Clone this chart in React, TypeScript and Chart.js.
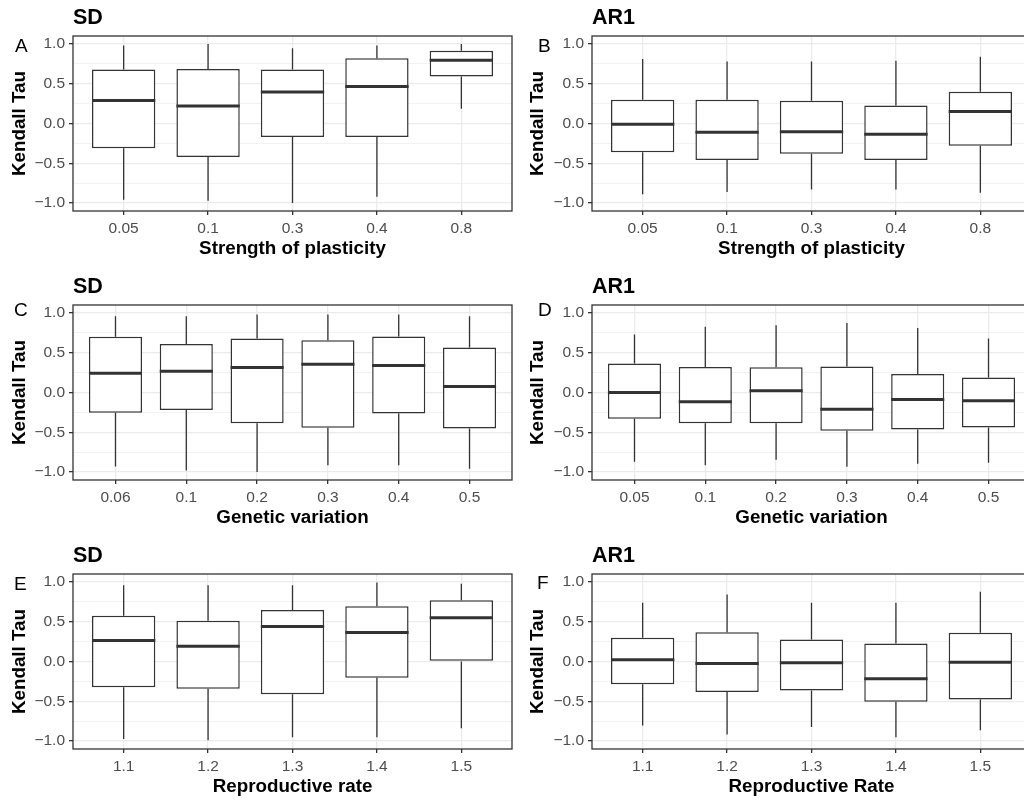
import React, { useEffect, useRef } from 'react';
import { Chart, registerables } from 'chart.js';

Chart.register(...registerables);

const FONT = '"Liberation Sans", Arial, Helvetica, sans-serif';

// ---- categories ----
const plasticityLevels = ['0.05', '0.1', '0.3', '0.4', '0.8'];
const geneticLevelsSD = ['0.06', '0.1', '0.2', '0.3', '0.4', '0.5'];
const geneticLevelsAR1 = ['0.05', '0.1', '0.2', '0.3', '0.4', '0.5'];
const reproLevels = ['1.1', '1.2', '1.3', '1.4', '1.5'];

// ---- y ticks ----
const yMajorTicks = [-1, -0.5, 0, 0.5, 1];
const yMajorLabels = ['\u22121.0', '\u22120.5', '0.0', '0.5', '1.0'];
const yMinorTicks = [-0.75, -0.25, 0.25, 0.75];

// ---- Panel A: SD vs strength of plasticity ----
const aMin = [-0.96, -0.97, -1.0, -0.92, 0.185];
const aQ1 = [-0.31, -0.42, -0.17, -0.17, 0.59];
const aMed = [0.29, 0.22, 0.395, 0.465, 0.795];
const aQ3 = [0.68, 0.685, 0.68, 0.82, 0.915];
const aMax = [0.98, 1.0, 0.945, 0.98, 1.0];

// ---- Panel B: AR1 vs strength of plasticity ----
const bMin = [-0.89, -0.86, -0.83, -0.83, -0.87];
const bQ1 = [-0.36, -0.46, -0.38, -0.46, -0.28];
const bMed = [-0.01, -0.11, -0.105, -0.135, 0.15];
const bQ3 = [0.3, 0.3, 0.285, 0.225, 0.4];
const bMax = [0.81, 0.78, 0.78, 0.79, 0.84];

// ---- Panel C: SD vs genetic variation ----
const cMin = [-0.93, -0.98, -1.0, -0.916, -0.916, -0.958];
const cQ1 = [-0.255, -0.22, -0.385, -0.443, -0.264, -0.452];
const cMed = [0.243, 0.268, 0.314, 0.356, 0.339, 0.075];
const cQ3 = [0.7, 0.61, 0.68, 0.657, 0.703, 0.565];
const cMax = [0.96, 0.96, 0.98, 0.98, 0.98, 0.958];

// ---- Panel D: AR1 vs genetic variation ----
const dMin = [-0.87, -0.916, -0.845, -0.933, -0.895, -0.883];
const dQ1 = [-0.33, -0.385, -0.385, -0.481, -0.464, -0.44];
const dMed = [0.0, -0.117, 0.021, -0.209, -0.088, -0.105];
const dQ3 = [0.364, 0.322, 0.318, 0.326, 0.234, 0.188];
const dMax = [0.728, 0.828, 0.845, 0.874, 0.81, 0.678];

// ---- Panel E: SD vs reproductive rate ----
const eMin = [-0.973, -0.99, -0.952, -0.952, -0.839];
const eQ1 = [-0.323, -0.344, -0.411, -0.205, 0.0];
const eMed = [0.264, 0.193, 0.44, 0.365, 0.55];
const eQ3 = [0.574, 0.512, 0.646, 0.696, 0.77];
const eMax = [0.96, 0.96, 0.96, 0.994, 0.977];

// ---- Panel F: AR1 vs reproductive rate ----
const fMin = [-0.805, -0.918, -0.822, -0.952, -0.864];
const fQ1 = [-0.285, -0.382, -0.365, -0.507, -0.478];
const fMed = [0.021, -0.025, -0.017, -0.218, -0.008];
const fQ3 = [0.298, 0.369, 0.277, 0.226, 0.36];
const fMax = [0.738, 0.843, 0.738, 0.738, 0.877];

type PanelProps = {
  title: string;
  letter: string;
  xTitle: string;
  categories: string[];
  mins: number[];
  q1s: number[];
  meds: number[];
  q3s: number[];
  maxs: number[];
  left: number;
  top: number;
  yTitlePad: number;
  letterLeft: number;
  letterTop: number;
};

const DARK = '#333333';
const GRID = '#EBEBEB';

function Panel(p: PanelProps) {
  const ref = useRef<HTMLCanvasElement | null>(null);
  useEffect(() => {
    if (!ref.current) return;
    const n = p.categories.length;
    const allY = [...yMajorTicks, ...yMinorTicks].sort((a, b) => a - b);
    const isMajor = (v: number) => yMajorTicks.indexOf(v) >= 0;

    const boxPlugin = {
      id: 'boxWhisker',
      beforeDatasetsDraw(chart: any) {
        const { ctx } = chart;
        const xs = chart.scales.x;
        const ys = chart.scales.y;
        ctx.save();
        ctx.strokeStyle = DARK;
        ctx.lineWidth = 1.3;
        for (let i = 0; i < n; i++) {
          const x = xs.getPixelForValue(i);
          ctx.beginPath();
          ctx.moveTo(x, ys.getPixelForValue(p.maxs[i]));
          ctx.lineTo(x, ys.getPixelForValue(p.q3s[i]));
          ctx.moveTo(x, ys.getPixelForValue(p.q1s[i]));
          ctx.lineTo(x, ys.getPixelForValue(p.mins[i]));
          ctx.stroke();
        }
        ctx.restore();
      },
      afterDatasetsDraw(chart: any) {
        const { ctx } = chart;
        const ys = chart.scales.y;
        const meta = chart.getDatasetMeta(0);
        ctx.save();
        ctx.strokeStyle = DARK;
        ctx.lineWidth = 3;
        meta.data.forEach((el: any, i: number) => {
          const { x, width } = el.getProps(['x', 'width'], true);
          const y = ys.getPixelForValue(p.meds[i]);
          ctx.beginPath();
          ctx.moveTo(x - width / 2, y);
          ctx.lineTo(x + width / 2, y);
          ctx.stroke();
        });
        ctx.restore();
      },
      afterDraw(chart: any) {
        const { ctx, chartArea } = chart;
        ctx.save();
        ctx.strokeStyle = DARK;
        ctx.lineWidth = 1.3;
        ctx.strokeRect(chartArea.left, chartArea.top, chartArea.right - chartArea.left, chartArea.bottom - chartArea.top);
        ctx.restore();
      },
    };

    const chart = new Chart(ref.current, {
      type: 'bar',
      data: {
        datasets: [
          {
            data: p.categories.map((_, i) => ({ x: i, y: [p.q1s[i], p.q3s[i]] })) as any,
            backgroundColor: '#FFFFFF',
            borderColor: DARK,
            borderWidth: 1.5,
            borderSkipped: false,
            barPercentage: 0.75,
            categoryPercentage: 1,
          },
        ],
      },
      options: {
        responsive: false,
        animation: false,
        events: [],
        layout: { padding: { left: 0, top: 0, right: 8, bottom: 0 } },
        plugins: {
          legend: { display: false },
          tooltip: { enabled: false },
          title: {
            display: true,
            text: p.title,
            align: 'start',
            fullSize: false,
            color: '#000000',
            font: { family: FONT, size: 21.5, weight: 'bold' },
            padding: { top: 4.8, bottom: 5.4 },
          },
        },
        scales: {
          x: {
            type: 'linear',
            min: -0.6,
            max: n - 0.4,
            offset: false,
            afterBuildTicks: (s: any) => {
              s.ticks = p.categories.map((_, i) => ({ value: i }));
            },
            afterFit: (s: any) => {
              s.height = 54;
            },
            ticks: {
              autoSkip: false,
              maxRotation: 0,
              minRotation: 0,
              padding: 4,
              color: '#4D4D4D',
              font: { family: FONT, size: 15.5 },
              callback: (v: any) => p.categories[v as number] ?? '',
            },
            grid: {
              offset: false,
              color: GRID,
              lineWidth: 1.3,
              tickLength: 4,
              tickColor: DARK,
              tickWidth: 1.3,
            },
            border: { display: false },
            title: {
              display: true,
              text: p.xTitle,
              color: '#000000',
              font: { family: FONT, size: 18.8, weight: 'bold' },
              padding: { top: 0, bottom: 4.7 },
            },
          },
          y: {
            type: 'linear',
            min: -1.1,
            max: 1.1,
            afterBuildTicks: (s: any) => {
              s.ticks = allY.map((v) => ({ value: v }));
            },
            afterFit: (s: any) => {
              s.width = 73;
            },
            ticks: {
              autoSkip: false,
              padding: 4,
              color: '#4D4D4D',
              font: { family: FONT, size: 15.5 },
              callback: (v: any) => {
                const idx = yMajorTicks.indexOf(v as number);
                return idx >= 0 ? yMajorLabels[idx] : '';
              },
            },
            grid: {
              color: GRID,
              lineWidth: (ctx: any) => (ctx.tick && isMajor(ctx.tick.value) ? 1.3 : 0.65),
              tickLength: 4,
              tickColor: (ctx: any) => (ctx.tick && isMajor(ctx.tick.value) ? DARK : 'rgba(0,0,0,0)'),
              tickWidth: 1.3,
            },
            border: { display: false },
            title: {
              display: true,
              text: 'Kendall Tau',
              color: '#000000',
              font: { family: FONT, size: 18.8, weight: 'bold' },
              padding: { top: p.yTitlePad, bottom: 0 },
            },
          },
        },
      } as any,
      plugins: [boxPlugin as any],
    });
    return () => chart.destroy();
  }, []);

  return (
    <>
      <canvas
        ref={ref}
        width={520}
        height={265}
        style={{ position: 'absolute', left: p.left, top: p.top, width: 520, height: 265, display: 'block' }}
      />
      <span
        style={{
          position: 'absolute',
          left: p.letterLeft,
          top: p.letterTop,
          fontFamily: FONT,
          fontSize: 19,
          lineHeight: 1,
          color: '#000000',
        }}
      >
        {p.letter}
      </span>
    </>
  );
}

export default function App() {
  return (
    <div
      style={{
        position: 'fixed',
        left: 0,
        top: 0,
        width: 1024,
        height: 801,
        overflow: 'hidden',
        background: '#FFFFFF',
      }}
    >
      <Panel title="SD" letter="A" xTitle="Strength of plasticity" categories={plasticityLevels}
        mins={aMin} q1s={aQ1} meds={aMed} q3s={aQ3} maxs={aMax}
        left={0} top={0} yTitlePad={8.4} letterLeft={15} letterTop={35.5} />
      <Panel title="AR1" letter="B" xTitle="Strength of plasticity" categories={plasticityLevels}
        mins={bMin} q1s={bQ1} meds={bMed} q3s={bQ3} maxs={bMax}
        left={519} top={0} yTitlePad={7.4} letterLeft={538} letterTop={35.5} />
      <Panel title="SD" letter="C" xTitle="Genetic variation" categories={geneticLevelsSD}
        mins={cMin} q1s={cQ1} meds={cMed} q3s={cQ3} maxs={cMax}
        left={0} top={269} yTitlePad={8.4} letterLeft={14} letterTop={300} />
      <Panel title="AR1" letter="D" xTitle="Genetic variation" categories={geneticLevelsAR1}
        mins={dMin} q1s={dQ1} meds={dMed} q3s={dQ3} maxs={dMax}
        left={519} top={269} yTitlePad={7.4} letterLeft={538} letterTop={300} />
      <Panel title="SD" letter="E" xTitle="Reproductive rate" categories={reproLevels}
        mins={eMin} q1s={eQ1} meds={eMed} q3s={eQ3} maxs={eMax}
        left={0} top={538} yTitlePad={8.4} letterLeft={14} letterTop={573.5} />
      <Panel title="AR1" letter="F" xTitle="Reproductive Rate" categories={reproLevels}
        mins={fMin} q1s={fQ1} meds={fMed} q3s={fQ3} maxs={fMax}
        left={519} top={538} yTitlePad={7.4} letterLeft={537} letterTop={573} />
    </div>
  );
}
